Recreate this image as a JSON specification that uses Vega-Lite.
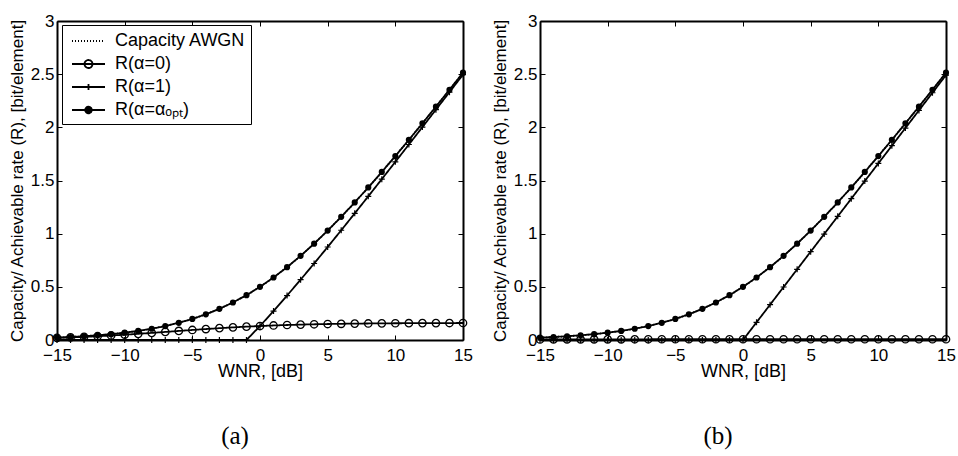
{
  "$schema": "https://vega.github.io/schema/vega-lite/v6.json",
  "padding": {"left": 8, "top": 12, "right": 5, "bottom": 5},
  "background": "white",
  "config": {
    "view": {"stroke": null},
    "font": "Liberation Sans",
    "axis": {
      "grid": false,
      "domainColor": "black",
      "domainWidth": 2,
      "tickColor": "black",
      "tickWidth": 1,
      "tickSize": -5,
      "labelColor": "black",
      "labelFont": "Liberation Sans",
      "labelFontSize": 17,
      "labelFlush": false,
      "labelPadding": 8,
      "titleColor": "black",
      "titleFont": "Liberation Sans",
      "titleFontWeight": "normal",
      "format": "~g"
    },
    "axisBottom": {"labelPadding": 12}
  },
  "spacing": 18,
  "datasets": {
    "a": [
      {"x": -15, "s": "cap", "y": 0.0225}, {"x": -14, "s": "cap", "y": 0.0282}, {"x": -13, "s": "cap", "y": 0.0353}, {"x": -12, "s": "cap", "y": 0.0441}, {"x": -11, "s": "cap", "y": 0.0551}, {"x": -10, "s": "cap", "y": 0.0688}, {"x": -9, "s": "cap", "y": 0.0855}, {"x": -8, "s": "cap", "y": 0.1061}, {"x": -7, "s": "cap", "y": 0.1312}, {"x": -6, "s": "cap", "y": 0.1616}, {"x": -5, "s": "cap", "y": 0.1982}, {"x": -4, "s": "cap", "y": 0.2417}, {"x": -3, "s": "cap", "y": 0.293}, {"x": -2, "s": "cap", "y": 0.3529}, {"x": -1, "s": "cap", "y": 0.4217}, {"x": 0, "s": "cap", "y": 0.5}, {"x": 1, "s": "cap", "y": 0.5878}, {"x": 2, "s": "cap", "y": 0.6851}, {"x": 3, "s": "cap", "y": 0.7914}, {"x": 4, "s": "cap", "y": 0.9061}, {"x": 5, "s": "cap", "y": 1.0287}, {"x": 6, "s": "cap", "y": 1.1582}, {"x": 7, "s": "cap", "y": 1.2939}, {"x": 8, "s": "cap", "y": 1.4349}, {"x": 9, "s": "cap", "y": 1.5804}, {"x": 10, "s": "cap", "y": 1.7297}, {"x": 11, "s": "cap", "y": 1.8822}, {"x": 12, "s": "cap", "y": 2.0373}, {"x": 13, "s": "cap", "y": 2.1946}, {"x": 14, "s": "cap", "y": 2.3535}, {"x": 15, "s": "cap", "y": 2.5139},
      {"x": -15, "s": "a0", "y": 0.02}, {"x": -14, "s": "a0", "y": 0.0244}, {"x": -13, "s": "a0", "y": 0.0295}, {"x": -12, "s": "a0", "y": 0.0355}, {"x": -11, "s": "a0", "y": 0.0422}, {"x": -10, "s": "a0", "y": 0.0498}, {"x": -9, "s": "a0", "y": 0.058}, {"x": -8, "s": "a0", "y": 0.0668}, {"x": -7, "s": "a0", "y": 0.0759}, {"x": -6, "s": "a0", "y": 0.0852}, {"x": -5, "s": "a0", "y": 0.0943}, {"x": -4, "s": "a0", "y": 0.103}, {"x": -3, "s": "a0", "y": 0.1113}, {"x": -2, "s": "a0", "y": 0.1188}, {"x": -1, "s": "a0", "y": 0.1256}, {"x": 0, "s": "a0", "y": 0.1315}, {"x": 1, "s": "a0", "y": 0.1367}, {"x": 2, "s": "a0", "y": 0.141}, {"x": 3, "s": "a0", "y": 0.1447}, {"x": 4, "s": "a0", "y": 0.1478}, {"x": 5, "s": "a0", "y": 0.1503}, {"x": 6, "s": "a0", "y": 0.1524}, {"x": 7, "s": "a0", "y": 0.1541}, {"x": 8, "s": "a0", "y": 0.1554}, {"x": 9, "s": "a0", "y": 0.1566}, {"x": 10, "s": "a0", "y": 0.1574}, {"x": 11, "s": "a0", "y": 0.1581}, {"x": 12, "s": "a0", "y": 0.1587}, {"x": 13, "s": "a0", "y": 0.1592}, {"x": 14, "s": "a0", "y": 0.1595}, {"x": 15, "s": "a0", "y": 0.1598},
      {"x": -15, "s": "a1", "y": 0}, {"x": -14, "s": "a1", "y": 0}, {"x": -13, "s": "a1", "y": 0}, {"x": -12, "s": "a1", "y": 0}, {"x": -11, "s": "a1", "y": 0}, {"x": -10, "s": "a1", "y": 0}, {"x": -9, "s": "a1", "y": 0}, {"x": -8, "s": "a1", "y": 0}, {"x": -7, "s": "a1", "y": 0}, {"x": -6, "s": "a1", "y": 0}, {"x": -5, "s": "a1", "y": 0}, {"x": -4, "s": "a1", "y": 0}, {"x": -3, "s": "a1", "y": 0}, {"x": -2, "s": "a1", "y": 0}, {"x": -1, "s": "a1", "y": 0}, {"x": 0, "s": "a1", "y": 0.1315}, {"x": 1, "s": "a1", "y": 0.2724}, {"x": 2, "s": "a1", "y": 0.4179}, {"x": 3, "s": "a1", "y": 0.5672}, {"x": 4, "s": "a1", "y": 0.7196}, {"x": 5, "s": "a1", "y": 0.8747}, {"x": 6, "s": "a1", "y": 1.0319}, {"x": 7, "s": "a1", "y": 1.1909}, {"x": 8, "s": "a1", "y": 1.3513}, {"x": 9, "s": "a1", "y": 1.5128}, {"x": 10, "s": "a1", "y": 1.6752}, {"x": 11, "s": "a1", "y": 1.8384}, {"x": 12, "s": "a1", "y": 2.0022}, {"x": 13, "s": "a1", "y": 2.1665}, {"x": 14, "s": "a1", "y": 2.3311}, {"x": 15, "s": "a1", "y": 2.496},
      {"x": -15, "s": "opt", "y": 0.0225}, {"x": -14, "s": "opt", "y": 0.0282}, {"x": -13, "s": "opt", "y": 0.0353}, {"x": -12, "s": "opt", "y": 0.0441}, {"x": -11, "s": "opt", "y": 0.0551}, {"x": -10, "s": "opt", "y": 0.0688}, {"x": -9, "s": "opt", "y": 0.0855}, {"x": -8, "s": "opt", "y": 0.1061}, {"x": -7, "s": "opt", "y": 0.1312}, {"x": -6, "s": "opt", "y": 0.1616}, {"x": -5, "s": "opt", "y": 0.1982}, {"x": -4, "s": "opt", "y": 0.2417}, {"x": -3, "s": "opt", "y": 0.293}, {"x": -2, "s": "opt", "y": 0.3529}, {"x": -1, "s": "opt", "y": 0.4217}, {"x": 0, "s": "opt", "y": 0.5}, {"x": 1, "s": "opt", "y": 0.5878}, {"x": 2, "s": "opt", "y": 0.6851}, {"x": 3, "s": "opt", "y": 0.7914}, {"x": 4, "s": "opt", "y": 0.9061}, {"x": 5, "s": "opt", "y": 1.0287}, {"x": 6, "s": "opt", "y": 1.1582}, {"x": 7, "s": "opt", "y": 1.2939}, {"x": 8, "s": "opt", "y": 1.4349}, {"x": 9, "s": "opt", "y": 1.5804}, {"x": 10, "s": "opt", "y": 1.7297}, {"x": 11, "s": "opt", "y": 1.8822}, {"x": 12, "s": "opt", "y": 2.0373}, {"x": 13, "s": "opt", "y": 2.1946}, {"x": 14, "s": "opt", "y": 2.3535}, {"x": 15, "s": "opt", "y": 2.5139}
    ],
    "b": [
      {"x": -15, "s": "cap", "y": 0.0225}, {"x": -14, "s": "cap", "y": 0.0282}, {"x": -13, "s": "cap", "y": 0.0353}, {"x": -12, "s": "cap", "y": 0.0441}, {"x": -11, "s": "cap", "y": 0.0551}, {"x": -10, "s": "cap", "y": 0.0688}, {"x": -9, "s": "cap", "y": 0.0855}, {"x": -8, "s": "cap", "y": 0.1061}, {"x": -7, "s": "cap", "y": 0.1312}, {"x": -6, "s": "cap", "y": 0.1616}, {"x": -5, "s": "cap", "y": 0.1982}, {"x": -4, "s": "cap", "y": 0.2417}, {"x": -3, "s": "cap", "y": 0.293}, {"x": -2, "s": "cap", "y": 0.3529}, {"x": -1, "s": "cap", "y": 0.4217}, {"x": 0, "s": "cap", "y": 0.5}, {"x": 1, "s": "cap", "y": 0.5878}, {"x": 2, "s": "cap", "y": 0.6851}, {"x": 3, "s": "cap", "y": 0.7914}, {"x": 4, "s": "cap", "y": 0.9061}, {"x": 5, "s": "cap", "y": 1.0287}, {"x": 6, "s": "cap", "y": 1.1582}, {"x": 7, "s": "cap", "y": 1.2939}, {"x": 8, "s": "cap", "y": 1.4349}, {"x": 9, "s": "cap", "y": 1.5804}, {"x": 10, "s": "cap", "y": 1.7297}, {"x": 11, "s": "cap", "y": 1.8822}, {"x": 12, "s": "cap", "y": 2.0373}, {"x": 13, "s": "cap", "y": 2.1946}, {"x": 14, "s": "cap", "y": 2.3535}, {"x": 15, "s": "cap", "y": 2.5139},
      {"x": -15, "s": "a0", "y": 0.005}, {"x": -14, "s": "a0", "y": 0.0055}, {"x": -13, "s": "a0", "y": 0.0058}, {"x": -12, "s": "a0", "y": 0.0061}, {"x": -11, "s": "a0", "y": 0.0063}, {"x": -10, "s": "a0", "y": 0.0065}, {"x": -9, "s": "a0", "y": 0.0066}, {"x": -8, "s": "a0", "y": 0.0067}, {"x": -7, "s": "a0", "y": 0.0068}, {"x": -6, "s": "a0", "y": 0.0069}, {"x": -5, "s": "a0", "y": 0.0069}, {"x": -4, "s": "a0", "y": 0.007}, {"x": -3, "s": "a0", "y": 0.007}, {"x": -2, "s": "a0", "y": 0.007}, {"x": -1, "s": "a0", "y": 0.0071}, {"x": 0, "s": "a0", "y": 0.0071}, {"x": 1, "s": "a0", "y": 0.0071}, {"x": 2, "s": "a0", "y": 0.0071}, {"x": 3, "s": "a0", "y": 0.0071}, {"x": 4, "s": "a0", "y": 0.0071}, {"x": 5, "s": "a0", "y": 0.0071}, {"x": 6, "s": "a0", "y": 0.0071}, {"x": 7, "s": "a0", "y": 0.0071}, {"x": 8, "s": "a0", "y": 0.0072}, {"x": 9, "s": "a0", "y": 0.0072}, {"x": 10, "s": "a0", "y": 0.0072}, {"x": 11, "s": "a0", "y": 0.0072}, {"x": 12, "s": "a0", "y": 0.0072}, {"x": 13, "s": "a0", "y": 0.0072}, {"x": 14, "s": "a0", "y": 0.0072}, {"x": 15, "s": "a0", "y": 0.0072},
      {"x": -15, "s": "a1", "y": 0}, {"x": -14, "s": "a1", "y": 0}, {"x": -13, "s": "a1", "y": 0}, {"x": -12, "s": "a1", "y": 0}, {"x": -11, "s": "a1", "y": 0}, {"x": -10, "s": "a1", "y": 0}, {"x": -9, "s": "a1", "y": 0}, {"x": -8, "s": "a1", "y": 0}, {"x": -7, "s": "a1", "y": 0}, {"x": -6, "s": "a1", "y": 0}, {"x": -5, "s": "a1", "y": 0}, {"x": -4, "s": "a1", "y": 0}, {"x": -3, "s": "a1", "y": 0}, {"x": -2, "s": "a1", "y": 0}, {"x": -1, "s": "a1", "y": 0}, {"x": 0, "s": "a1", "y": 0}, {"x": 1, "s": "a1", "y": 0.1661}, {"x": 2, "s": "a1", "y": 0.3322}, {"x": 3, "s": "a1", "y": 0.4983}, {"x": 4, "s": "a1", "y": 0.6644}, {"x": 5, "s": "a1", "y": 0.8305}, {"x": 6, "s": "a1", "y": 0.9966}, {"x": 7, "s": "a1", "y": 1.1627}, {"x": 8, "s": "a1", "y": 1.3288}, {"x": 9, "s": "a1", "y": 1.4949}, {"x": 10, "s": "a1", "y": 1.661}, {"x": 11, "s": "a1", "y": 1.8271}, {"x": 12, "s": "a1", "y": 1.9932}, {"x": 13, "s": "a1", "y": 2.1593}, {"x": 14, "s": "a1", "y": 2.3253}, {"x": 15, "s": "a1", "y": 2.4914},
      {"x": -15, "s": "opt", "y": 0.0225}, {"x": -14, "s": "opt", "y": 0.0282}, {"x": -13, "s": "opt", "y": 0.0353}, {"x": -12, "s": "opt", "y": 0.0441}, {"x": -11, "s": "opt", "y": 0.0551}, {"x": -10, "s": "opt", "y": 0.0688}, {"x": -9, "s": "opt", "y": 0.0855}, {"x": -8, "s": "opt", "y": 0.1061}, {"x": -7, "s": "opt", "y": 0.1312}, {"x": -6, "s": "opt", "y": 0.1616}, {"x": -5, "s": "opt", "y": 0.1982}, {"x": -4, "s": "opt", "y": 0.2417}, {"x": -3, "s": "opt", "y": 0.293}, {"x": -2, "s": "opt", "y": 0.3529}, {"x": -1, "s": "opt", "y": 0.4217}, {"x": 0, "s": "opt", "y": 0.5}, {"x": 1, "s": "opt", "y": 0.5878}, {"x": 2, "s": "opt", "y": 0.6851}, {"x": 3, "s": "opt", "y": 0.7914}, {"x": 4, "s": "opt", "y": 0.9061}, {"x": 5, "s": "opt", "y": 1.0287}, {"x": 6, "s": "opt", "y": 1.1582}, {"x": 7, "s": "opt", "y": 1.2939}, {"x": 8, "s": "opt", "y": 1.4349}, {"x": 9, "s": "opt", "y": 1.5804}, {"x": 10, "s": "opt", "y": 1.7297}, {"x": 11, "s": "opt", "y": 1.8822}, {"x": 12, "s": "opt", "y": 2.0373}, {"x": 13, "s": "opt", "y": 2.1946}, {"x": 14, "s": "opt", "y": 2.3535}, {"x": 15, "s": "opt", "y": 2.5139}
    ]
  },
  "hconcat": [
    {
      "width": 406, "height": 319,
      "data": {"name": "a"},
      "title": {"text": "(a)", "orient": "bottom", "anchor": "middle", "font": "Liberation Serif", "fontSize": 25, "fontWeight": "normal", "color": "black", "offset": 44, "dx": -25},
      "resolve": {"axis": {"x": "independent", "y": "independent"}},
      "layer": [
        {
          "mark": {"type": "line", "color": "black", "strokeWidth": 1.8},
          "encoding": {
            "x": {"field": "x", "type": "quantitative", "scale": {"domain": [-15, 15], "nice": false, "zero": false}, "axis": {"orient": "bottom", "values": [-15, -10, -5, 0, 5, 10, 15], "title": "WNR, [dB]", "titleFontSize": 18, "titlePadding": -1}},
            "y": {"field": "y", "type": "quantitative", "scale": {"domain": [0, 3], "nice": false}, "axis": {"orient": "left", "values": [0, 0.5, 1, 1.5, 2, 2.5, 3], "title": "Capacity/ Achievable rate (R), [bit/element]", "titleFontSize": 17, "titlePadding": 4}},
            "strokeDash": {"field": "s", "type": "nominal", "scale": {"domain": ["cap", "a0", "a1", "opt"], "range": [[1, 2], [1, 0], [1, 0], [1, 0]]},
              "legend": {"orient": "none", "legendX": 5, "legendY": 4, "title": null, "direction": "vertical", "strokeColor": "black", "fillColor": "white", "padding": 5, "rowPadding": 3, "symbolSize": 400, "symbolStrokeColor": "black", "symbolStrokeWidth": 1.8, "labelFontSize": 18, "labelFont": "Liberation Sans", "labelColor": "black", "labelOffset": 26, "labelLimit": 300,
                "labelExpr": "datum.value == 'cap' ? 'Capacity AWGN' : datum.value == 'a0' ? 'R(α=0)' : datum.value == 'a1' ? 'R(α=1)' : 'R(α=αₒₚₜ)'",
                "encode": {"symbols": {"update": {
                  "shape": {"signal": "datum.value == 'cap' ? 'M-0.6,0H2.7' : datum.value == 'a0' ? 'M-0.6,0H2.7M1.45,0A0.4,0.4 0 1 1 0.65,0A0.4,0.4 0 1 1 1.45,0' : datum.value == 'a1' ? 'M-0.6,0H2.7M1.05,-0.3V0.3' : 'M-0.6,0H2.7M1.38,0A0.33,0.33 0 1 1 0.72,0A0.33,0.33 0 1 1 1.38,0'"},
                  "fill": {"signal": "datum.value == 'opt' ? 'black' : 'transparent'"},
                  "stroke": {"value": "black"}
                }}}
              }
            }
          }
        },
        {
          "transform": [{"filter": "datum.s == 'a0'"}],
          "mark": {"type": "point", "shape": "circle", "filled": false, "color": "black", "size": 55, "strokeWidth": 1.3, "opacity": 1},
          "encoding": {
            "x": {"field": "x", "type": "quantitative", "axis": {"orient": "top", "values": [-15, -10, -5, 0, 5, 10, 15], "labels": false, "title": null}},
            "y": {"field": "y", "type": "quantitative", "axis": {"orient": "right", "values": [0, 0.5, 1, 1.5, 2, 2.5, 3], "labels": false, "title": null}}
          }
        },
        {
          "transform": [{"filter": "datum.s == 'a1'"}],
          "mark": {"type": "point", "shape": "M-1,0H1M0,-1V1", "filled": false, "color": "black", "size": 36, "strokeWidth": 1.2, "opacity": 1},
          "encoding": {
            "x": {"field": "x", "type": "quantitative", "axis": null},
            "y": {"field": "y", "type": "quantitative", "axis": null}
          }
        },
        {
          "transform": [{"filter": "datum.s == 'opt'"}],
          "mark": {"type": "circle", "color": "black", "size": 38, "opacity": 1},
          "encoding": {
            "x": {"field": "x", "type": "quantitative", "axis": null},
            "y": {"field": "y", "type": "quantitative", "axis": null}
          }
        }
      ]
    },
    {
      "width": 406, "height": 319,
      "data": {"name": "b"},
      "title": {"text": "(b)", "orient": "bottom", "anchor": "middle", "font": "Liberation Serif", "fontSize": 25, "fontWeight": "normal", "color": "black", "offset": 44, "dx": -25},
      "resolve": {"axis": {"x": "independent", "y": "independent"}},
      "layer": [
        {
          "mark": {"type": "line", "color": "black", "strokeWidth": 1.8},
          "encoding": {
            "x": {"field": "x", "type": "quantitative", "scale": {"domain": [-15, 15], "nice": false, "zero": false}, "axis": {"orient": "bottom", "values": [-15, -10, -5, 0, 5, 10, 15], "title": "WNR, [dB]", "titleFontSize": 18, "titlePadding": -1}},
            "y": {"field": "y", "type": "quantitative", "scale": {"domain": [0, 3], "nice": false}, "axis": {"orient": "left", "values": [0, 0.5, 1, 1.5, 2, 2.5, 3], "title": "Capacity/ Achievable rate (R), [bit/element]", "titleFontSize": 17, "titlePadding": 4}},
            "strokeDash": {"field": "s", "type": "nominal", "scale": {"domain": ["cap", "a0", "a1", "opt"], "range": [[1, 2], [1, 0], [1, 0], [1, 0]]},
              "legend": {"orient": "none", "legendX": 5, "legendY": 4, "title": null, "direction": "vertical", "strokeColor": "black", "fillColor": "white", "padding": 5, "rowPadding": 3, "symbolSize": 400, "symbolStrokeColor": "black", "symbolStrokeWidth": 1.8, "labelFontSize": 18, "labelFont": "Liberation Sans", "labelColor": "black", "labelOffset": 26, "labelLimit": 300,
                "labelExpr": "datum.value == 'cap' ? 'Capacity AWGN' : datum.value == 'a0' ? 'R(α=0)' : datum.value == 'a1' ? 'R(α=1)' : 'R(α=αₒₚₜ)'",
                "encode": {"symbols": {"update": {
                  "shape": {"signal": "datum.value == 'cap' ? 'M-0.6,0H2.7' : datum.value == 'a0' ? 'M-0.6,0H2.7M1.45,0A0.4,0.4 0 1 1 0.65,0A0.4,0.4 0 1 1 1.45,0' : datum.value == 'a1' ? 'M-0.6,0H2.7M1.05,-0.3V0.3' : 'M-0.6,0H2.7M1.38,0A0.33,0.33 0 1 1 0.72,0A0.33,0.33 0 1 1 1.38,0'"},
                  "fill": {"signal": "datum.value == 'opt' ? 'black' : 'transparent'"},
                  "stroke": {"value": "black"}
                }}}
              }
            }
          }
        },
        {
          "transform": [{"filter": "datum.s == 'a0'"}],
          "mark": {"type": "point", "shape": "circle", "filled": false, "color": "black", "size": 55, "strokeWidth": 1.3, "opacity": 1},
          "encoding": {
            "x": {"field": "x", "type": "quantitative", "axis": {"orient": "top", "values": [-15, -10, -5, 0, 5, 10, 15], "labels": false, "title": null}},
            "y": {"field": "y", "type": "quantitative", "axis": {"orient": "right", "values": [0, 0.5, 1, 1.5, 2, 2.5, 3], "labels": false, "title": null}}
          }
        },
        {
          "transform": [{"filter": "datum.s == 'a1'"}],
          "mark": {"type": "point", "shape": "M-1,0H1M0,-1V1", "filled": false, "color": "black", "size": 36, "strokeWidth": 1.2, "opacity": 1},
          "encoding": {
            "x": {"field": "x", "type": "quantitative", "axis": null},
            "y": {"field": "y", "type": "quantitative", "axis": null}
          }
        },
        {
          "transform": [{"filter": "datum.s == 'opt'"}],
          "mark": {"type": "circle", "color": "black", "size": 38, "opacity": 1},
          "encoding": {
            "x": {"field": "x", "type": "quantitative", "axis": null},
            "y": {"field": "y", "type": "quantitative", "axis": null}
          }
        }
      ]
    }
  ]
}
